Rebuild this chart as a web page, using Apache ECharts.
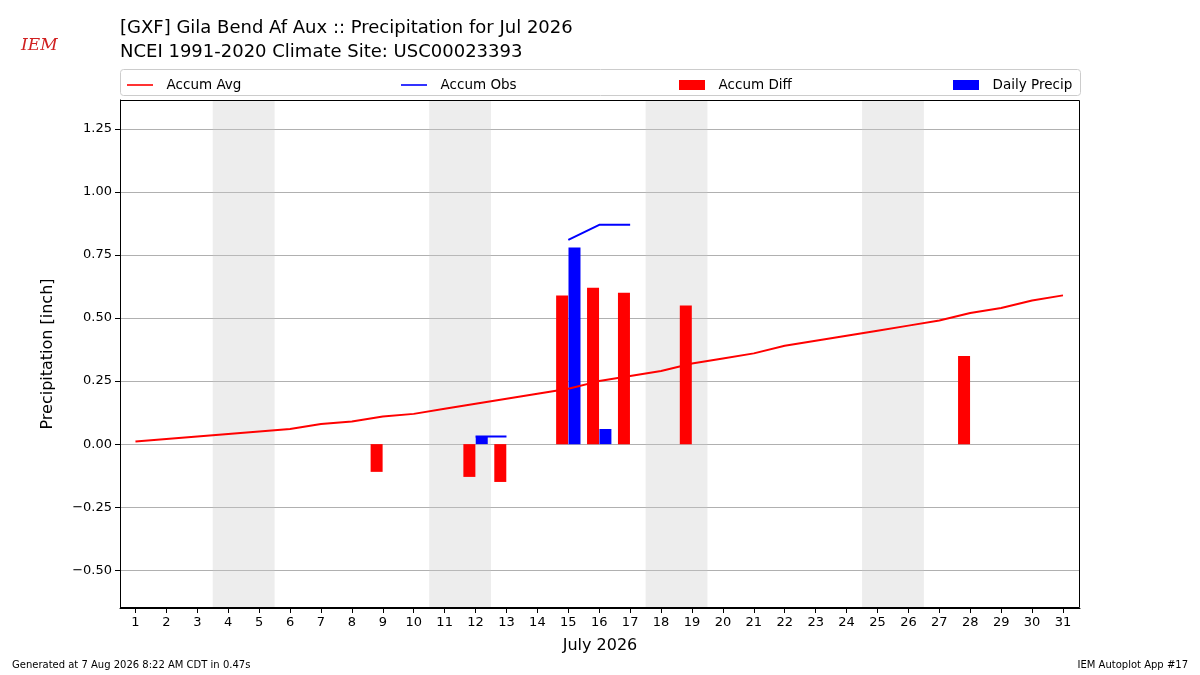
<!DOCTYPE html>
<html>
<head>
<meta charset="utf-8">
<script src="https://cdn.jsdelivr.net/npm/echarts@6/dist/echarts.min.js"></script>
<style>html,body{margin:0;padding:0;background:#fff}#main{width:1200px;height:675px}</style>
</head>
<body>
<div id="main"></div>
<script>
var days = [];
for (var d = 1; d <= 31; d++) days.push(d);
var accumAvg = [0.01,0.02,0.03,0.04,0.05,0.06,0.08,0.09,0.11,0.12,0.14,0.16,0.18,0.20,0.22,0.25,0.27,0.29,0.32,0.34,0.36,0.39,0.41,0.43,0.45,0.47,0.49,0.52,0.54,0.57,0.59];
var obsDays = [12,13,14,15,16,17];
var accumObs = [0.03,0.03,null,0.81,0.87,0.87];
var diffDays = [9,12,13,15,16,17,19,28];
var accumDiff = [-0.11,-0.13,-0.15,0.59,0.62,0.60,0.55,0.35];
var precipDays = [12,15,16];
var dailyPrecip = [0.03,0.78,0.06];
var weekends = [[3.5,5.5],[10.5,12.5],[17.5,19.5],[24.5,26.5]];
var yTicks = [-0.5,-0.25,0,0.25,0.5,0.75,1.0,1.25];

var font = 'DejaVu Sans';
var lineIcon = 'path://M0,4.2L26,4.2L26,5.8L0,5.8Z';
function zip(xs, ys, off) { return xs.map(function(x, i){ return [x + off, ys[i]]; }); }

var chart = echarts.init(document.getElementById('main'));
var legendBase = {top: 73, itemWidth: 26, itemHeight: 10, itemGap: 8, formatter: '  {name}',
  textStyle: {fontFamily: font, fontSize: 13.5, color: '#000'}};
chart.setOption({
  animation: false,
  textStyle: {fontFamily: font},
  title: [
    {text: '[GXF] Gila Bend Af Aux :: Precipitation for Jul 2026\nNCEI 1991-2020 Climate Site: USC00023393', left: 115, top: 11,
     textStyle: {fontFamily: font, fontSize: 18, fontWeight: 'normal', color: '#000', lineHeight: 24}},
    {text: 'Generated at 7 Aug 2026 8:22 AM CDT in 0.47s', left: 7, top: 655, textStyle: {fontFamily: font, fontSize: 10, fontWeight: 'normal', color: '#000'}},
    {text: 'IEM Autoplot App #17', right: 7, top: 655, textStyle: {fontFamily: font, fontSize: 10, fontWeight: 'normal', color: '#000'}},
    {text: 'IEM', left: 16, top: 32, textStyle: {fontFamily: 'DejaVu Serif', fontStyle: 'italic', fontSize: 17, fontWeight: 'normal', color: '#d02020'}}
  ],
  graphic: [
    {type: 'rect', shape: {x: 120.5, y: 69.5, width: 960, height: 26, r: 3}, style: {fill: 'none', stroke: '#ccc'}},
    {type: 'rect', shape: {x: 120.5, y: 100.5, width: 959, height: 507}, style: {fill: 'none', stroke: '#000'}, z: 10}
  ],
  legend: [
    Object.assign({left: 122, data: [{name: 'Accum Avg', icon: lineIcon}]}, legendBase),
    Object.assign({left: 396, data: [{name: 'Accum Obs', icon: lineIcon}]}, legendBase),
    Object.assign({left: 674, data: [{name: 'Accum Diff', icon: 'rect'}]}, legendBase),
    Object.assign({left: 948, data: [{name: 'Daily Precip', icon: 'rect'}]}, legendBase)
  ],
  grid: {left: 120, right: 120, top: 100, bottom: 67},
  xAxis: {
    type: 'value', min: 0.5, max: 31.55,
    name: 'July 2026', nameLocation: 'middle', nameGap: 30,
    nameTextStyle: {fontSize: 16, color: '#000'},
    axisLine: {onZero: false, lineStyle: {color: '#000'}},
    axisTick: {customValues: days, lineStyle: {color: '#000'}},
    axisLabel: {customValues: days, color: '#000', fontSize: 13},
    splitLine: {show: false}
  },
  yAxis: {
    type: 'value', min: -0.65, max: 1.365,
    name: 'Precipitation [inch]', nameLocation: 'middle', nameGap: 64,
    nameTextStyle: {fontSize: 16, color: '#000'},
    axisLine: {show: true, lineStyle: {color: '#000'}},
    axisTick: {show: true, customValues: yTicks, lineStyle: {color: '#000'}},
    axisLabel: {customValues: yTicks, color: '#000', fontSize: 13,
      formatter: function(v){ return (v < 0 ? '\u2212' : '') + Math.abs(v).toFixed(2); }},
    splitLine: {show: true, lineStyle: {color: '#b0b0b0'}}
  },
  series: [
    {name: 'Accum Avg', type: 'line', data: zip(days, accumAvg, 0), symbol: 'none',
     lineStyle: {color: '#ff0000', width: 2}, itemStyle: {color: '#ff0000'}, z: 3,
     markArea: {silent: true, itemStyle: {color: 'rgba(200,200,200,0.33)'},
       data: weekends.map(function(w){ return [{xAxis: w[0]}, {xAxis: w[1]}]; })}},
    {name: 'Accum Obs', type: 'line', data: zip(obsDays, accumObs, 0), symbol: 'none', connectNulls: false,
     lineStyle: {color: '#0000ff', width: 2}, itemStyle: {color: '#0000ff'}, z: 3},
    {name: 'Accum Diff', type: 'bar', data: zip(diffDays, accumDiff, -0.2), barWidth: 12,
     itemStyle: {color: '#ff0000'}, z: 2},
    {name: 'Daily Precip', type: 'bar', data: zip(precipDays, dailyPrecip, 0.2), barWidth: 12,
     itemStyle: {color: '#0000ff'}, barGap: '-100%', z: 2}
  ]
});
</script>
</body>
</html>
